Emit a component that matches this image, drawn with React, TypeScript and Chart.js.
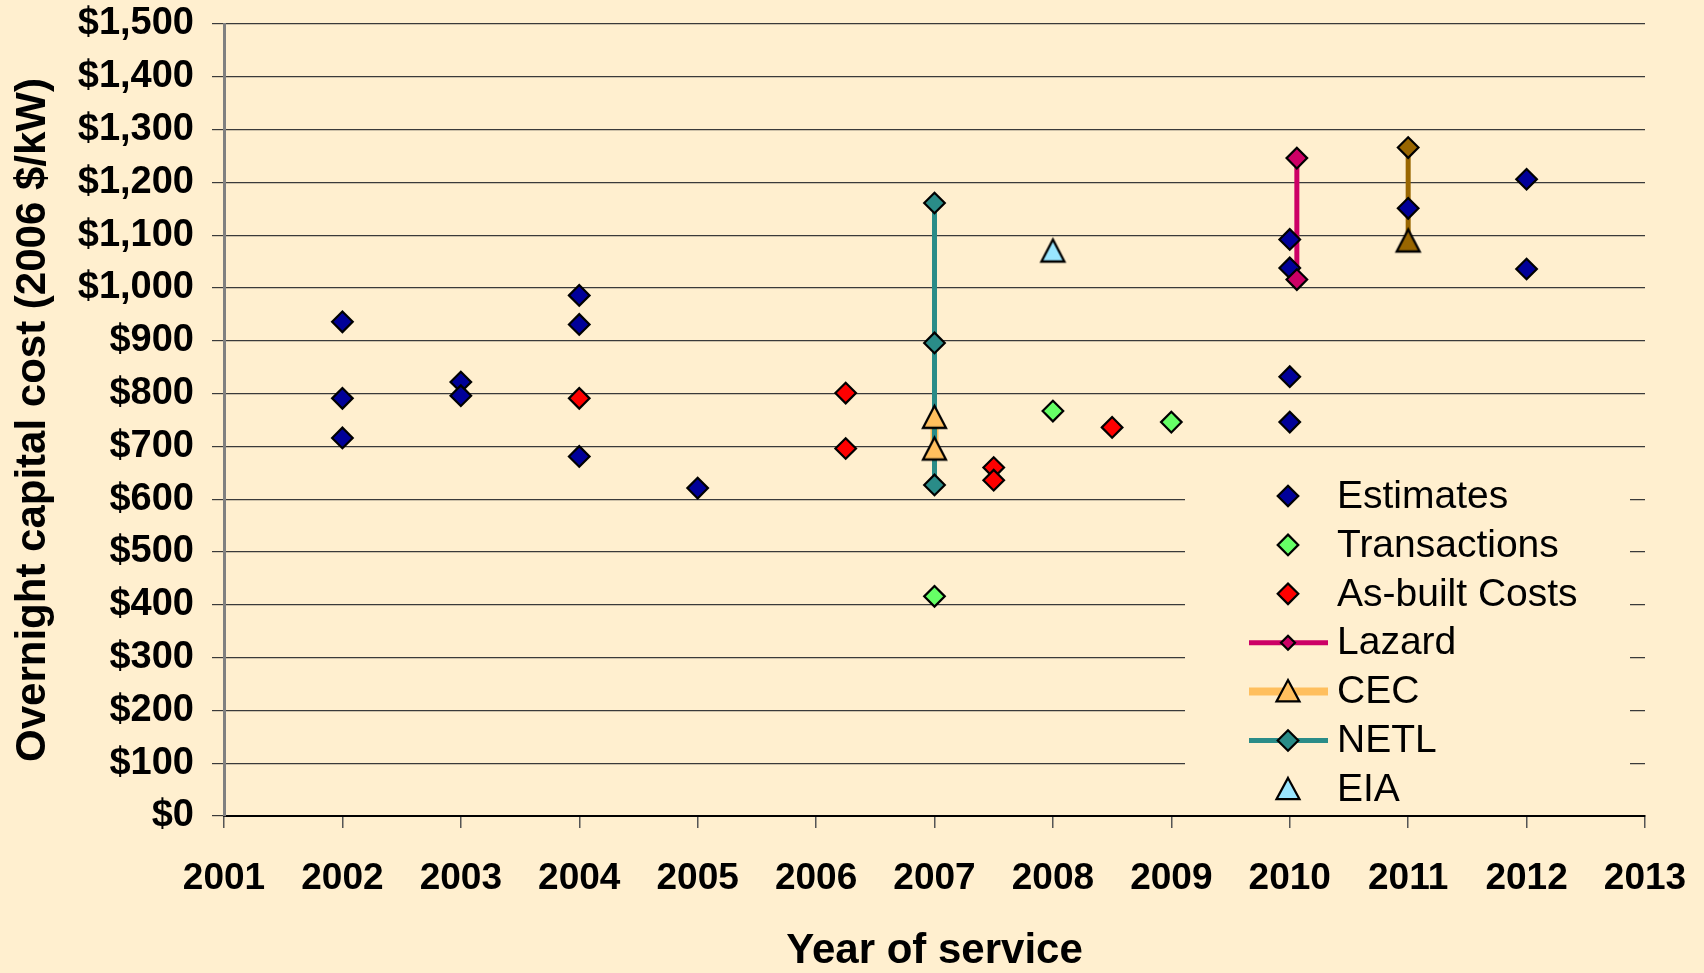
import React, { useEffect, useRef } from 'react';
import { Chart, registerables } from 'chart.js';

Chart.register(...registerables);

const BG = '#FFEFCF';
const FONT = '"Liberation Sans", Arial, sans-serif';

// ---- data ----
const estimatesYear = [2002, 2002, 2002, 2003, 2003, 2004, 2004, 2004, 2005, 2010, 2010, 2010, 2010, 2011, 2012, 2012];
const estimatesCost = [936, 791, 716, 822, 796, 986, 931, 681, 621, 1092, 1038, 832, 746, 1151, 1206, 1036];

const transactionsYear = [2007, 2008, 2009];
const transactionsCost = [416, 767, 746];

const asBuiltYear = [2004, 2006.25, 2006.25, 2007.5, 2007.5, 2008.5];
const asBuiltCost = [791, 801, 696, 660, 636, 736];

const lazardYear = [2010.06, 2010.06];
const lazardCost = [1246, 1016];

const cecYear = [2007, 2007];
const cecCost = [756, 696];

const netlYear = [2007, 2007, 2007];
const netlCost = [1161, 896, 627];

const eiaYear = [2008];
const eiaCost = [1071];

const otherYear = [2011, 2011];
const otherCost = [1266, 1090];

const xMin = 2001;
const xMax = 2013;
const yMin = 0;
const yMax = 1500;
const yStep = 100;

const COL = {
  est: '#000099',
  trans: '#66FF66',
  asb: '#FF0000',
  laz: '#CC0066',
  cec: '#FFBF5E',
  netl: '#2A8C88',
  eia: '#99E6FF',
  other: '#996600',
};

const pts = (xs: number[], ys: number[]) => xs.map((x, i) => ({ x, y: ys[i] }));

function makeTriangle(fill: string, w = 23, h = 22, lw = 2.3): HTMLCanvasElement {
  const pad = 4;
  const c = document.createElement('canvas');
  c.width = w + pad * 2;
  c.height = h + pad * 2;
  const g = c.getContext('2d')!;
  g.beginPath();
  g.moveTo(pad + w / 2, pad);
  g.lineTo(pad + w, pad + h);
  g.lineTo(pad, pad + h);
  g.closePath();
  g.fillStyle = fill;
  g.fill();
  g.lineWidth = lw;
  g.lineJoin = 'miter';
  g.strokeStyle = '#000';
  g.stroke();
  return c;
}

type LegendEntry = { label: string; color: string; line?: string; lineWidth?: number; marker: 'diamond' | 'triangle'; r: number };
const legendEntries: LegendEntry[] = [
  { label: 'Estimates', color: COL.est, marker: 'diamond', r: 10.3 },
  { label: 'Transactions', color: COL.trans, marker: 'diamond', r: 10.3 },
  { label: 'As-built Costs', color: COL.asb, marker: 'diamond', r: 10.3 },
  { label: 'Lazard', color: COL.laz, line: COL.laz, lineWidth: 5, marker: 'diamond', r: 7 },
  { label: 'CEC', color: COL.cec, line: COL.cec, lineWidth: 8, marker: 'triangle', r: 11.5 },
  { label: 'NETL', color: COL.netl, line: COL.netl, lineWidth: 5, marker: 'diamond', r: 10.3 },
  { label: 'EIA', color: COL.eia, marker: 'triangle', r: 11.5 },
];

const legendPlugin = {
  id: 'customLegend',
  afterDatasetsDraw(chart: any) {
    const ctx: CanvasRenderingContext2D = chart.ctx;
    const { right, bottom } = chart.chartArea;
    ctx.save();
    ctx.fillStyle = BG;
    ctx.fillRect(right - 460, bottom - 343, 445, 337);
    const mx = right - 357;
    const tx = right - 308;
    legendEntries.forEach((e, i) => {
      const y = bottom - 320 + i * 48.9;
      if (e.line) {
        ctx.beginPath();
        ctx.moveTo(right - 396, y);
        ctx.lineTo(right - 317, y);
        ctx.strokeStyle = e.line;
        ctx.lineWidth = e.lineWidth || 5;
        ctx.stroke();
      }
      ctx.beginPath();
      if (e.marker === 'diamond') {
        ctx.moveTo(mx, y - e.r);
        ctx.lineTo(mx + e.r, y);
        ctx.lineTo(mx, y + e.r);
        ctx.lineTo(mx - e.r, y);
      } else {
        ctx.moveTo(mx, y - e.r);
        ctx.lineTo(mx + e.r, y + e.r * 0.85);
        ctx.lineTo(mx - e.r, y + e.r * 0.85);
      }
      ctx.closePath();
      ctx.fillStyle = e.color;
      ctx.fill();
      ctx.lineWidth = 2.2;
      ctx.lineJoin = 'miter';
      ctx.strokeStyle = '#000';
      ctx.stroke();
      ctx.fillStyle = '#000';
      ctx.font = `39px ${FONT}`;
      ctx.textBaseline = 'middle';
      ctx.textAlign = 'left';
      ctx.fillText(e.label, tx, y + 1);
    });
    ctx.restore();
  },
};

export default function App() {
  const ref = useRef<HTMLCanvasElement>(null);
  useEffect(() => {
    if (!ref.current) return;
    const triCec = makeTriangle(COL.cec);
    const triEia = makeTriangle(COL.eia);
    const triOther = makeTriangle(COL.other);

    const marker = (color: string, order: number) => ({
      showLine: false,
      pointStyle: 'rectRot',
      pointRadius: 10.3,
      pointHoverRadius: 10.3,
      pointBackgroundColor: color,
      pointBorderColor: '#000',
      pointBorderWidth: 2.2,
      backgroundColor: color,
      borderColor: '#000',
      order,
    });
    const lineOnly = (color: string, width: number) => ({
      showLine: true,
      pointRadius: 0,
      pointHoverRadius: 0,
      borderColor: color,
      borderWidth: width,
      backgroundColor: color,
      order: 100,
    });

    const chart = new Chart(ref.current, {
      type: 'scatter',
      data: {
        datasets: [
          // connecting lines (drawn beneath all markers)
          { label: 'NETL line', data: pts(netlYear, netlCost), ...lineOnly(COL.netl, 5) } as any,
          { label: 'CEC line', data: pts(cecYear, cecCost), ...lineOnly(COL.cec, 8) } as any,
          { label: 'Lazard line', data: pts(lazardYear, lazardCost), ...lineOnly(COL.laz, 5) } as any,
          { label: 'Other line', data: pts(otherYear, otherCost), ...lineOnly(COL.other, 5) } as any,
          // markers
          { label: 'Estimates', data: pts(estimatesYear, estimatesCost), ...marker(COL.est, 9) } as any,
          { label: 'Transactions', data: pts(transactionsYear, transactionsCost), ...marker(COL.trans, 8) } as any,
          { label: 'As-built Costs', data: pts(asBuiltYear, asBuiltCost), ...marker(COL.asb, 7) } as any,
          { label: 'Lazard', data: pts(lazardYear, lazardCost), ...marker(COL.laz, 6) } as any,
          { label: 'CEC', data: pts(cecYear, cecCost), ...marker(COL.cec, 5), pointStyle: triCec } as any,
          { label: 'NETL', data: pts(netlYear, netlCost), ...marker(COL.netl, 4) } as any,
          { label: 'EIA', data: pts(eiaYear, eiaCost), ...marker(COL.eia, 3), pointStyle: triEia } as any,
          { label: 'Other', data: pts(otherYear, otherCost), ...marker(COL.other, 2), pointStyle: ['rectRot', triOther] } as any,
        ],
      },
      options: {
        animation: false,
        responsive: false,
        devicePixelRatio: 1,
        layout: { padding: { left: 0, top: 24, right: 59, bottom: 0 } },
        plugins: { legend: { display: false }, tooltip: { enabled: false } },
        events: [],
        scales: {
          x: {
            type: 'linear',
            min: xMin,
            max: xMax,
            afterFit: (s: any) => { s.height = 157; s.paddingLeft = 0; s.paddingRight = 0; },
            ticks: {
              stepSize: 1,
              autoSkip: false,
              maxRotation: 0,
              padding: 29,
              color: '#000',
              font: { family: FONT, size: 37, weight: 'bold' },
              callback: (v: any) => String(v),
            },
            grid: { drawOnChartArea: false, drawTicks: true, tickLength: 12, color: '#555', lineWidth: 1.5 },
            border: { display: true, color: '#000', width: 2 },
            title: {
              display: true,
              text: 'Year of service',
              color: '#000',
              font: { family: FONT, size: 42, weight: 'bold' },
              padding: { top: 0, bottom: -4 },
            },
          },
          y: {
            type: 'linear',
            min: yMin,
            max: yMax,
            afterFit: (s: any) => { s.width = 224; s.paddingTop = 0; s.paddingBottom = 0; },
            ticks: {
              stepSize: yStep,
              padding: 18,
              color: '#000',
              font: { family: FONT, size: 38, weight: 'bold' },
              callback: (v: any) => '$' + Number(v).toLocaleString('en-US'),
            },
            grid: { color: '#3a3a3a', lineWidth: 1.2, drawTicks: true, tickLength: 12 },
            border: { display: true, color: '#808080', width: 3 },
            title: {
              display: true,
              text: 'Overnight capital cost (2006 $/kW)',
              color: '#000',
              font: { family: FONT, size: 42, weight: 'bold' },
              padding: { top: 8, bottom: 0 },
            },
          },
        },
      },
      plugins: [legendPlugin],
    });
    return () => chart.destroy();
  }, []);

  return (
    <div style={{ position: 'fixed', left: 0, top: 0, width: 1704, height: 973, background: BG }}>
      <canvas ref={ref} width={1704} height={973} style={{ display: 'block' }} />
    </div>
  );
}
